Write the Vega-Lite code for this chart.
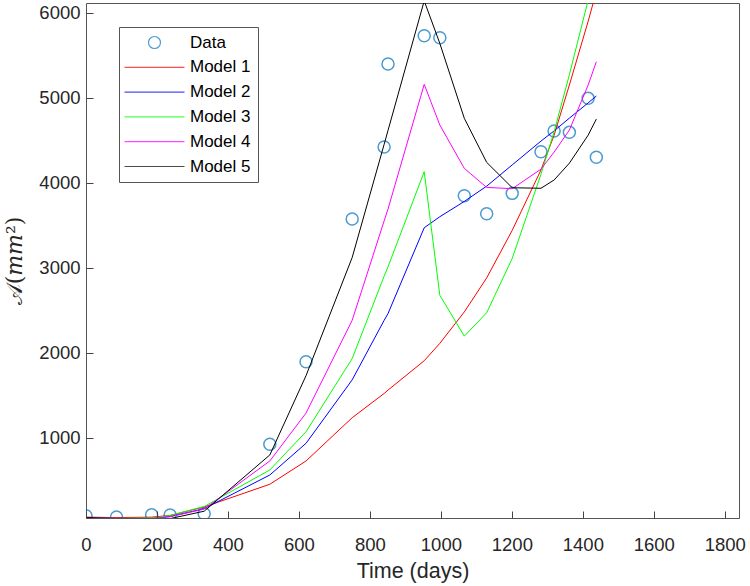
{
  "$schema": "https://vega.github.io/schema/vega-lite/v6.json",
  "width": 653,
  "height": 515,
  "autosize": {"type": "none"},
  "padding": {"left": 86, "top": 3, "right": 11, "bottom": 68},
  "background": "white",
  "config": {
    "view": {"stroke": "#555555", "strokeWidth": 1},
    "axis": {
      "grid": false,
      "domain": false,
      "format": "d",
      "labelFont": "Liberation Sans",
      "labelFontSize": 18.5,
      "labelColor": "#262626",
      "titleFont": "Liberation Sans",
      "titleFontSize": 21.5,
      "titleFontWeight": "normal",
      "titleColor": "#262626"
    },
    "legend": {
      "labelFont": "Liberation Sans",
      "labelFontSize": 17,
      "labelColor": "#000000"
    }
  },
  "datasets": {
    "obs": [
      {"t": 0, "v": 82, "series": "Data"},
      {"t": 86, "v": 67, "series": "Data"},
      {"t": 185, "v": 94, "series": "Data"},
      {"t": 237, "v": 91, "series": "Data"},
      {"t": 333, "v": 106, "series": "Data"},
      {"t": 518, "v": 922, "series": "Data"},
      {"t": 620, "v": 1894, "series": "Data"},
      {"t": 750, "v": 3573, "series": "Data"},
      {"t": 840, "v": 4420, "series": "Data"},
      {"t": 851, "v": 5397, "series": "Data"},
      {"t": 953, "v": 5730, "series": "Data"},
      {"t": 997, "v": 5706, "series": "Data"},
      {"t": 1066, "v": 3847, "series": "Data"},
      {"t": 1129, "v": 3635, "series": "Data"},
      {"t": 1201, "v": 3875, "series": "Data"},
      {"t": 1282, "v": 4365, "series": "Data"},
      {"t": 1319, "v": 4608, "series": "Data"},
      {"t": 1362, "v": 4593, "series": "Data"},
      {"t": 1415, "v": 4993, "series": "Data"},
      {"t": 1438, "v": 4299, "series": "Data"}
    ],
    "models": [
      {"t": 0, "v": 65, "series": "Model 1"},
      {"t": 86, "v": 60, "series": "Model 1"},
      {"t": 185, "v": 65, "series": "Model 1"},
      {"t": 237, "v": 85, "series": "Model 1"},
      {"t": 333, "v": 185, "series": "Model 1"},
      {"t": 518, "v": 452, "series": "Model 1"},
      {"t": 620, "v": 726, "series": "Model 1"},
      {"t": 750, "v": 1235, "series": "Model 1"},
      {"t": 840, "v": 1520, "series": "Model 1"},
      {"t": 851, "v": 1560, "series": "Model 1"},
      {"t": 953, "v": 1905, "series": "Model 1"},
      {"t": 997, "v": 2110, "series": "Model 1"},
      {"t": 1066, "v": 2480, "series": "Model 1"},
      {"t": 1129, "v": 2880, "series": "Model 1"},
      {"t": 1201, "v": 3440, "series": "Model 1"},
      {"t": 1282, "v": 4150, "series": "Model 1"},
      {"t": 1319, "v": 4560, "series": "Model 1"},
      {"t": 1362, "v": 5150, "series": "Model 1"},
      {"t": 1415, "v": 5900, "series": "Model 1"},
      {"t": 1438, "v": 6250, "series": "Model 1"},

      {"t": 0, "v": 60, "series": "Model 2"},
      {"t": 86, "v": 50, "series": "Model 2"},
      {"t": 185, "v": 50, "series": "Model 2"},
      {"t": 237, "v": 72, "series": "Model 2"},
      {"t": 333, "v": 165, "series": "Model 2"},
      {"t": 518, "v": 561, "series": "Model 2"},
      {"t": 620, "v": 934, "series": "Model 2"},
      {"t": 750, "v": 1680, "series": "Model 2"},
      {"t": 840, "v": 2380, "series": "Model 2"},
      {"t": 851, "v": 2460, "series": "Model 2"},
      {"t": 953, "v": 3470, "series": "Model 2"},
      {"t": 997, "v": 3600, "series": "Model 2"},
      {"t": 1066, "v": 3780, "series": "Model 2"},
      {"t": 1129, "v": 3960, "series": "Model 2"},
      {"t": 1201, "v": 4210, "series": "Model 2"},
      {"t": 1282, "v": 4490, "series": "Model 2"},
      {"t": 1319, "v": 4610, "series": "Model 2"},
      {"t": 1362, "v": 4760, "series": "Model 2"},
      {"t": 1415, "v": 4940, "series": "Model 2"},
      {"t": 1438, "v": 5020, "series": "Model 2"},

      {"t": 0, "v": 60, "series": "Model 3"},
      {"t": 86, "v": 50, "series": "Model 3"},
      {"t": 185, "v": 55, "series": "Model 3"},
      {"t": 237, "v": 85, "series": "Model 3"},
      {"t": 333, "v": 190, "series": "Model 3"},
      {"t": 518, "v": 620, "series": "Model 3"},
      {"t": 620, "v": 1070, "series": "Model 3"},
      {"t": 750, "v": 1930, "series": "Model 3"},
      {"t": 840, "v": 2900, "series": "Model 3"},
      {"t": 851, "v": 3010, "series": "Model 3"},
      {"t": 953, "v": 4130, "series": "Model 3"},
      {"t": 997, "v": 2676, "series": "Model 3"},
      {"t": 1066, "v": 2195, "series": "Model 3"},
      {"t": 1129, "v": 2470, "series": "Model 3"},
      {"t": 1201, "v": 3110, "series": "Model 3"},
      {"t": 1282, "v": 4100, "series": "Model 3"},
      {"t": 1319, "v": 4600, "series": "Model 3"},
      {"t": 1362, "v": 5270, "series": "Model 3"},
      {"t": 1415, "v": 6150, "series": "Model 3"},
      {"t": 1438, "v": 6550, "series": "Model 3"},

      {"t": 0, "v": 60, "series": "Model 4"},
      {"t": 86, "v": 50, "series": "Model 4"},
      {"t": 185, "v": 50, "series": "Model 4"},
      {"t": 237, "v": 70, "series": "Model 4"},
      {"t": 333, "v": 160, "series": "Model 4"},
      {"t": 518, "v": 726, "series": "Model 4"},
      {"t": 620, "v": 1290, "series": "Model 4"},
      {"t": 750, "v": 2381, "series": "Model 4"},
      {"t": 840, "v": 3550, "series": "Model 4"},
      {"t": 851, "v": 3690, "series": "Model 4"},
      {"t": 953, "v": 5158, "series": "Model 4"},
      {"t": 997, "v": 4679, "series": "Model 4"},
      {"t": 1066, "v": 4169, "series": "Model 4"},
      {"t": 1129, "v": 3945, "series": "Model 4"},
      {"t": 1201, "v": 3930, "series": "Model 4"},
      {"t": 1282, "v": 4160, "series": "Model 4"},
      {"t": 1319, "v": 4360, "series": "Model 4"},
      {"t": 1362, "v": 4620, "series": "Model 4"},
      {"t": 1415, "v": 5150, "series": "Model 4"},
      {"t": 1438, "v": 5424, "series": "Model 4"},

      {"t": 0, "v": 60, "series": "Model 5"},
      {"t": 86, "v": 48, "series": "Model 5"},
      {"t": 185, "v": 40, "series": "Model 5"},
      {"t": 237, "v": 48, "series": "Model 5"},
      {"t": 333, "v": 135, "series": "Model 5"},
      {"t": 518, "v": 797, "series": "Model 5"},
      {"t": 620, "v": 1730, "series": "Model 5"},
      {"t": 750, "v": 3120, "series": "Model 5"},
      {"t": 840, "v": 4450, "series": "Model 5"},
      {"t": 851, "v": 4615, "series": "Model 5"},
      {"t": 953, "v": 6140, "series": "Model 5"},
      {"t": 997, "v": 5640, "series": "Model 5"},
      {"t": 1066, "v": 4758, "series": "Model 5"},
      {"t": 1129, "v": 4240, "series": "Model 5"},
      {"t": 1201, "v": 3941, "series": "Model 5"},
      {"t": 1282, "v": 3935, "series": "Model 5"},
      {"t": 1319, "v": 4032, "series": "Model 5"},
      {"t": 1362, "v": 4230, "series": "Model 5"},
      {"t": 1415, "v": 4560, "series": "Model 5"},
      {"t": 1438, "v": 4749, "series": "Model 5"}
    ]
  },
  "layer": [
    {
      "data": {"name": "obs"},
      "mark": {"type": "point", "filled": false, "size": 100, "strokeWidth": 1.5, "clip": true},
      "encoding": {
        "x": {
          "field": "t", "type": "quantitative",
          "scale": {"domain": [0, 1840], "nice": false, "zero": false},
          "axis": {"orient": "bottom", "title": "Time (days)", "values": [0, 200, 400, 600, 800, 1000, 1200, 1400, 1600, 1800], "ticks": true, "tickSize": 7, "tickColor": "#444444", "tickWidth": 1, "offset": -7, "zindex": 1, "labelPadding": 17.5, "titlePadding": 6, "labelFlush": false}
        },
        "y": {
          "field": "v", "type": "quantitative",
          "scale": {"domain": [55, 6115], "nice": false, "zero": false},
          "axis": {"orient": "left", "title": "𝒜(𝑚𝑚²)", "titleFont": "DejaVu Serif", "titleFontSize": 22, "values": [1000, 2000, 3000, 4000, 5000, 6000], "ticks": true, "tickSize": 7, "tickColor": "#444444", "tickWidth": 1, "offset": -7, "zindex": 1, "labelPadding": 6, "titlePadding": 12, "labelFlush": false}
        },
        "color": {
          "field": "series", "type": "nominal",
          "scale": {"domain": ["Data", "Model 1", "Model 2", "Model 3", "Model 4", "Model 5"], "range": ["#0072BD", "#ff0000", "#0000ff", "#00ff00", "#ff00ff", "#000000"]},
          "legend": {
            "title": null, "orient": "none", "legendX": 33, "legendY": 24,
            "symbolSize": 100, "symbolStrokeWidth": 1.2, "symbolOffset": 20, "labelOffset": 27,
            "rowPadding": 6.8, "padding": 7, "strokeColor": "#555555", "fillColor": "#ffffff", "cornerRadius": 0
          }
        },
        "shape": {
          "field": "series", "type": "nominal",
          "scale": {"domain": ["Data", "Model 1", "Model 2", "Model 3", "Model 4", "Model 5"], "range": ["M-1.2,0A1.2,1.2 0 1,0 1.2,0A1.2,1.2 0 1,0 -1.2,0Z", "M-6,0H6", "M-6,0H6", "M-6,0H6", "M-6,0H6", "M-6,0H6"]},
          "legend": {
            "title": null, "orient": "none", "legendX": 33, "legendY": 24,
            "symbolSize": 100, "symbolStrokeWidth": 1.2, "symbolOffset": 20, "labelOffset": 27,
            "rowPadding": 6.8, "padding": 7, "strokeColor": "#555555", "fillColor": "#ffffff", "cornerRadius": 0
          }
        }
      }
    },
    {
      "data": {"name": "models"},
      "mark": {"type": "line", "strokeWidth": 1, "clip": true},
      "encoding": {
        "x": {"field": "t", "type": "quantitative"},
        "y": {"field": "v", "type": "quantitative"},
        "color": {
          "field": "series", "type": "nominal",
          "scale": {"domain": ["Data", "Model 1", "Model 2", "Model 3", "Model 4", "Model 5"], "range": ["#0072BD", "#ff0000", "#0000ff", "#00ff00", "#ff00ff", "#000000"]},
          "legend": {
            "title": null, "orient": "none", "legendX": 33, "legendY": 24,
            "symbolSize": 100, "symbolStrokeWidth": 1.2, "symbolOffset": 20, "labelOffset": 27,
            "rowPadding": 6.8, "padding": 7, "strokeColor": "#555555", "fillColor": "#ffffff", "cornerRadius": 0
          }
        }
      }
    }
  ]
}
